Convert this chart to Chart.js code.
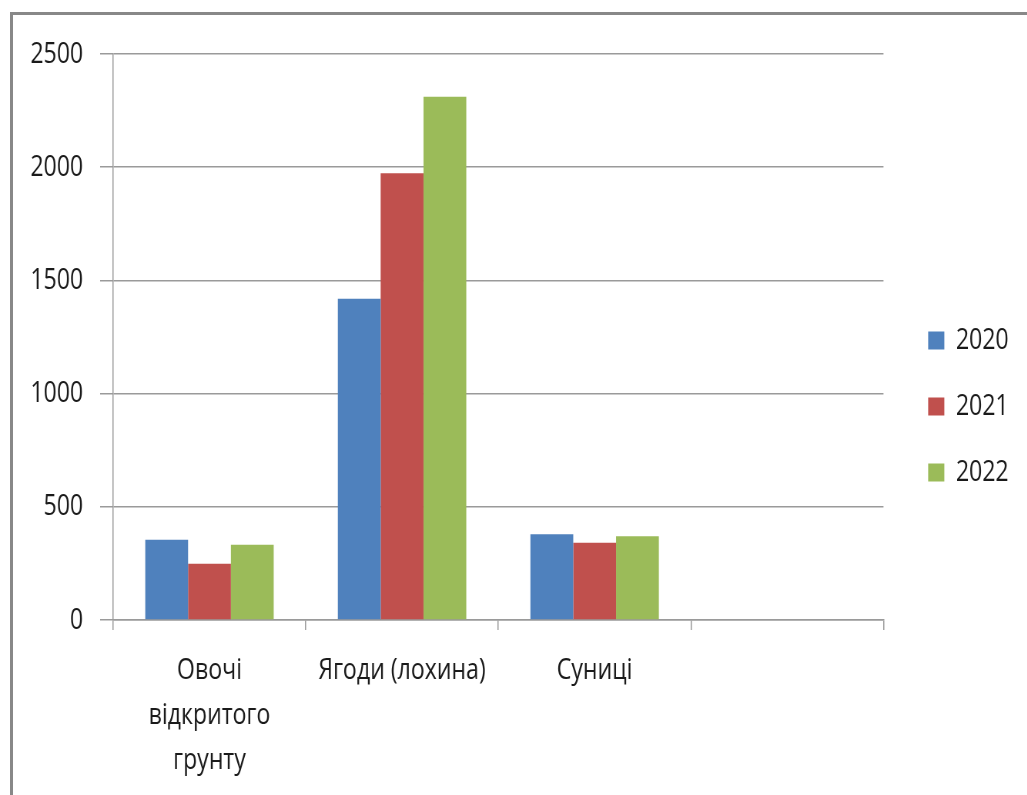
<!DOCTYPE html>
<html>
<head>
<meta charset="utf-8">
<script src="https://cdn.jsdelivr.net/npm/chart.js@4.4.0/dist/chart.umd.min.js"></script>
<style>
  body { margin: 0; background: #fff; overflow: hidden; }
  #frame { position: absolute; left: 10px; top: 12px; width: 1100px; height: 900px;
           border-left: 3px solid #888; border-top: 3px solid #888; }
  /* the reference text is tall and narrow, so the whole chart is squeezed sideways */
  #chartDiv { position: absolute; left: 0; top: 0; width: 1334px; height: 795px;
              transform: scaleX(0.77); transform-origin: 0 0; }
</style>
</head>
<body>
<div id="frame"></div>
<div id="chartDiv"><canvas id="myChart" width="1334" height="795"></canvas></div>
<script>
const canvas = document.getElementById('myChart');

const categories = [['Овочі', 'відкритого', 'грунту'], 'Ягоди (лохина)', 'Суниці', ''];
const years = ['2020', '2021', '2022'];
const values2020 = [355, 1419, 379, null];
const values2021 = [248, 1973, 341, null];
const values2022 = [332, 2311, 370, null];
const yTicks = [0, 500, 1000, 1500, 2000, 2500];
const colors = ['#4F81BD', '#C0504D', '#9BBB59'];

Chart.defaults.font.family = "'Open Sans', 'Noto Sans', sans-serif";
Chart.defaults.font.size = 30;
Chart.defaults.color = '#1a1a1a';

const lineColor = '#9a9a9a';
const series = [values2020, values2021, values2022];
const dataConf = {
    labels: categories,
    datasets: years.map((y, i) => ({
        label: y,
        data: series[i],
        backgroundColor: colors[i],
        borderWidth: 0,
        categoryPercentage: 0.667,
        barPercentage: 1.0
    }))
};

// empty helper axes that only take up room
const spacer = (position, size) => ({
    type: 'linear',
    position: position,
    display: true,
    grid: { display: false },
    border: { display: false },
    ticks: { display: false },
    afterFit: scale => {
        if (scale.isHorizontal()) scale.height = size; else scale.width = size;
    }
});

const config = {
    type: 'bar',
    data: dataConf,
    options: {
        responsive: false,
        animation: false,
        layout: {
            padding: { top: 18, left: 0, right: 14, bottom: 0 }
        },
        plugins: {
            legend: {
                position: 'right',
                maxWidth: 166,
                labels: {
                    boxWidth: 21,
                    boxHeight: 18,
                    padding: 36,
                    font: { size: 30 }
                }
            },
            tooltip: { enabled: false }
        },
        scales: {
            x: {
                offset: true,
                grid: {
                    display: true,
                    offset: true,
                    drawOnChartArea: false,
                    drawTicks: true,
                    tickLength: 10,
                    color: lineColor,
                    lineWidth: 1.5
                },
                border: { display: true, color: lineColor, width: 1.5 },
                ticks: {
                    padding: 18,
                    maxRotation: 0,
                    autoSkip: false,
                    font: { size: 30, lineHeight: 1.5 }
                },
                afterFit: scale => { scale.height = 795 - 620; }
            },
            y: {
                min: 0,
                max: 2500,
                afterBuildTicks: scale => { scale.ticks = yTicks.map(v => ({ value: v })); },
                grid: {
                    color: lineColor,
                    lineWidth: 1.5,
                    drawTicks: true,
                    tickLength: 17
                },
                border: { display: true, color: lineColor, width: 1.5 },
                ticks: {
                    padding: 22,
                    font: { size: 30 },
                    callback: v => String(v)
                },
                afterFit: scale => { scale.width = 147; }
            },
            gapTop: spacer('top', 36),
            gapRight: spacer('right', 22)
        }
    }
};

const myChart = new Chart(canvas, config);
</script>
</body>
</html>
